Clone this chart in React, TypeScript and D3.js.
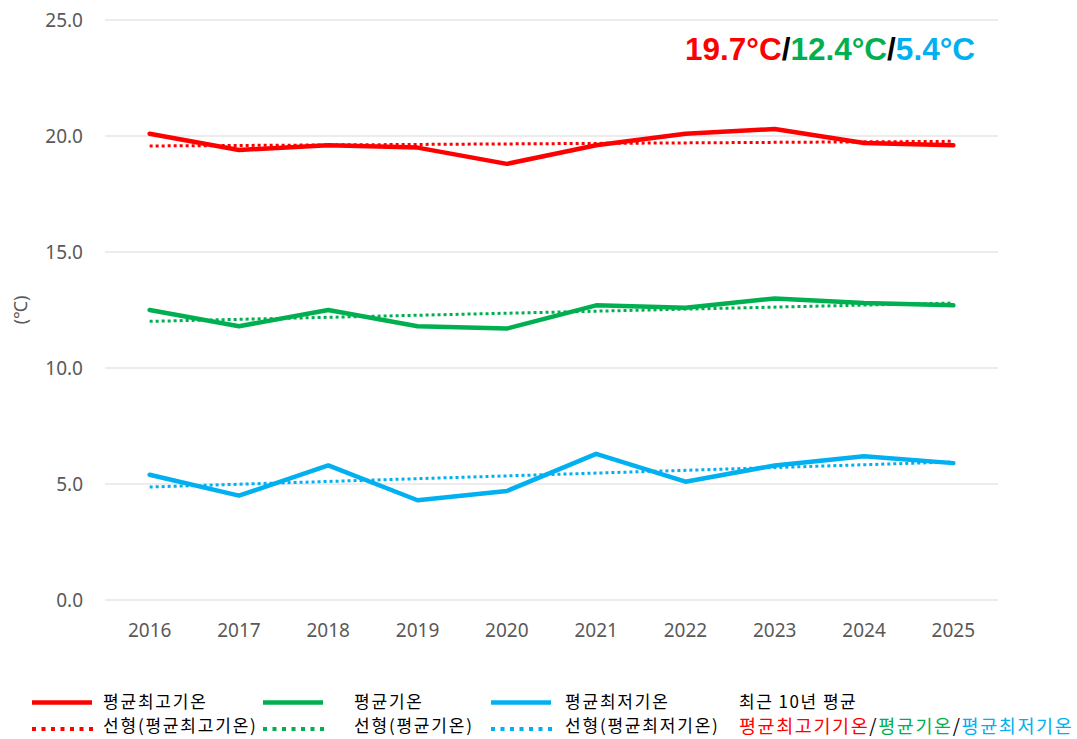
import React from "react";
import * as d3 from "d3";

const years = ["2016", "2017", "2018", "2019", "2020", "2021", "2022", "2023", "2024", "2025"];
const maxTemp = [20.1, 19.4, 19.6, 19.5, 18.8, 19.6, 20.1, 20.3, 19.7, 19.6];
const avgTemp = [12.5, 11.8, 12.5, 11.8, 11.7, 12.7, 12.6, 13.0, 12.8, 12.7];
const minTemp = [5.4, 4.5, 5.8, 4.3, 4.7, 6.3, 5.1, 5.8, 6.2, 5.9];
// trend line endpoints (first year, last year)
const maxTrend = [19.57, 19.77];
const avgTrend = [12.01, 12.8];
const minTrend = [4.87, 5.95];
const yTicks = [0, 5, 10, 15, 20, 25];
const summary = ["19.7°C", "12.4°C", "5.4°C"];

const RED = "#ff0000";
const GREEN = "#00b050";
const BLUE = "#00b0f0";

const W = 1077;
const H = 739;
const left = 105;
const right = 998;
const top = 20;
const bottom = 600;

export default function App() {
  const x = d3.scaleBand().domain(years).range([left, right]);
  const y = d3.scaleLinear().domain([0, 25]).range([bottom, top]);
  const cx = (yr: string) => (x(yr) ?? 0) + x.bandwidth() / 2;
  const line = d3
    .line<number>()
    .x((_, i) => cx(years[i]))
    .y((d) => y(d));

  const series = [
    { vals: maxTemp, trend: maxTrend, color: RED },
    { vals: avgTemp, trend: avgTrend, color: GREEN },
    { vals: minTemp, trend: minTrend, color: BLUE },
  ];

  const font = "'Noto Sans', 'Noto Sans CJK KR', sans-serif";
  const krFont = "'Noto Sans CJK KR', 'Noto Sans', sans-serif";

  const lineRow1 = 702.5;
  const lineRow2 = 729;
  const textRow1 = 707.5;
  const textRow2 = 732;
  const legendItems = [
    { x: 32, tx: 103, color: RED, label: "평균최고기온", tlabel: "선형(평균최고기온)" },
    { x: 263, tx: 354, color: GREEN, label: "평균기온", tlabel: "선형(평균기온)" },
    { x: 491, tx: 565, color: BLUE, label: "평균최저기온", tlabel: "선형(평균최저기온)" },
  ];

  return (
    <svg
      width={W}
      height={H}
      style={{ position: "absolute", left: 0, top: 0, background: "#fff" }}
    >
      {yTicks.map((t) => (
        <g key={t}>
          <line x1={left} x2={right} y1={y(t)} y2={y(t)} stroke="#d9d9d9" strokeWidth={1} />
          <text
            x={83}
            y={y(t)}
            dy="0.35em"
            textAnchor="end"
            fontFamily={font}
            fontSize={19}
            fill="#595959"
          >
            {t.toFixed(1)}
          </text>
        </g>
      ))}
      {years.map((yr) => (
        <text
          key={yr}
          x={cx(yr)}
          y={637}
          textAnchor="middle"
          fontFamily={font}
          fontSize={19}
          fill="#595959"
        >
          {yr}
        </text>
      ))}
      <text
        transform={`translate(27, ${y(12.5)}) rotate(-90)`}
        textAnchor="middle"
        fontFamily={font}
        fontSize={18}
        fill="#595959"
      >
        (℃)
      </text>

      {series.map((s, i) => (
        <g key={i}>
          <line
            x1={cx(years[0])}
            x2={cx(years[years.length - 1])}
            y1={y(s.trend[0])}
            y2={y(s.trend[1])}
            stroke={s.color}
            strokeWidth={3}
            strokeDasharray="3,3"
          />
          <path
            d={line(s.vals) ?? ""}
            fill="none"
            stroke={s.color}
            strokeWidth={4.5}
            strokeLinejoin="round"
            strokeLinecap="round"
          />
        </g>
      ))}

      <text
        x={975}
        y={60}
        textAnchor="end"
        fontFamily="'Liberation Sans', Arial, sans-serif"
        fontWeight="bold"
        fontSize={31.5}
      >
        <tspan fill={RED}>{summary[0]}</tspan>
        <tspan fill="#000">/</tspan>
        <tspan fill={GREEN}>{summary[1]}</tspan>
        <tspan fill="#000">/</tspan>
        <tspan fill={BLUE}>{summary[2]}</tspan>
      </text>

      {legendItems.map((it, i) => (
        <g key={i}>
          <line x1={it.x} x2={it.x + 60} y1={lineRow1} y2={lineRow1} stroke={it.color} strokeWidth={4.5} />
          <text x={it.tx} y={textRow1} fontFamily={krFont} fontSize={17} letterSpacing={1.8} fill="#000">
            {it.label}
          </text>
          <line
            x1={it.x}
            x2={it.x + 61}
            y1={lineRow2}
            y2={lineRow2}
            stroke={it.color}
            strokeWidth={4}
            strokeDasharray="4,5.5"
          />
          <text x={it.tx} y={textRow2} fontFamily={krFont} fontSize={17} letterSpacing={1.8} fill="#000">
            {it.tlabel}
          </text>
        </g>
      ))}
      <text x={739} y={textRow1} fontFamily={krFont} fontSize={17} letterSpacing={1.5} fill="#000">
        최근 10년 평균
      </text>
      <text x={739} y={textRow2 + 1} fontFamily={krFont} fontSize={18.5} letterSpacing={1.6}>
        <tspan fill={RED}>평균최고기기온</tspan>
        <tspan fill="#000">/</tspan>
        <tspan fill={GREEN}>평균기온</tspan>
        <tspan fill="#000">/</tspan>
        <tspan fill={BLUE}>평균최저기온</tspan>
      </text>
    </svg>
  );
}
